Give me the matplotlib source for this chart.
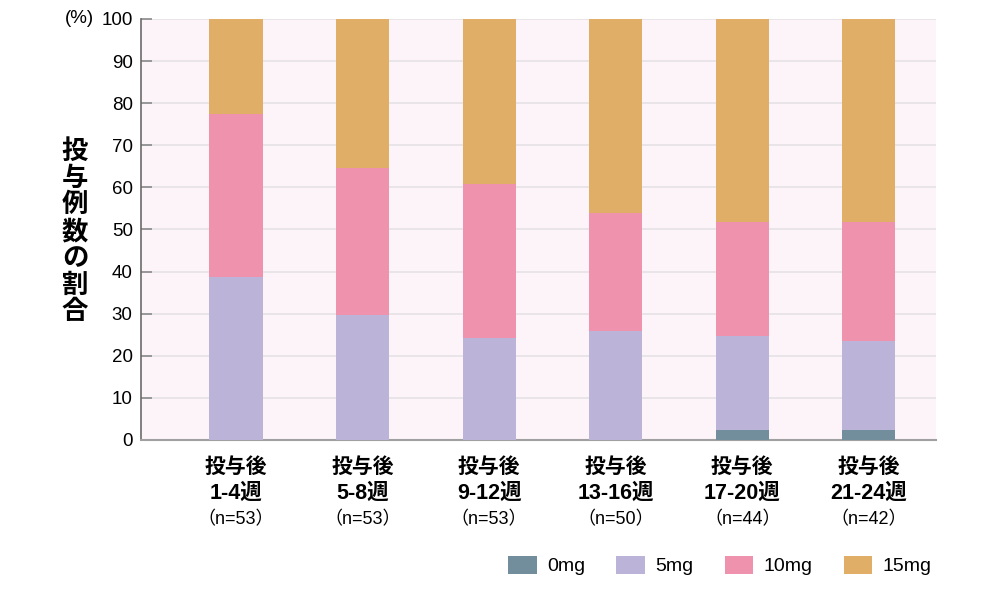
import numpy as np
import matplotlib.pyplot as plt
from matplotlib.patches import Patch
import matplotlib.transforms as mtransforms

plt.rcParams['font.family'] = ['Liberation Sans', 'Noto Sans CJK JP', 'DejaVu Sans']

periods = ['1-4週', '5-8週', '9-12週', '13-16週', '17-20週', '21-24週']
n_counts = [53, 53, 53, 50, 44, 42]
doses = ['0mg', '5mg', '10mg', '15mg']

# percentage of patients per dose
pct_0mg = [0.0, 0.0, 0.0, 0.0, 2.4, 2.4]
pct_5mg = [38.7, 29.7, 24.2, 26.0, 22.3, 21.0]
pct_10mg = [38.8, 35.0, 36.5, 27.8, 27.0, 28.3]
pct_15mg = [22.5, 35.3, 39.3, 46.2, 48.3, 48.3]

colors = ['#728e9c', '#bbb3d8', '#ef92ae', '#e1ae68']

fig = plt.figure(figsize=(10.01, 5.91), dpi=100)
ax = fig.add_axes([0.1409, 0.2555, 0.794, 0.7124])
ax.set_facecolor('#fdf4f9')

x = np.arange(len(periods))
bottom = np.zeros(len(periods))
for vals, c in zip([pct_0mg, pct_5mg, pct_10mg, pct_15mg], colors):
    ax.bar(x, vals, width=0.42, bottom=bottom, color=c, zorder=3)
    bottom += np.array(vals)

ax.set_ylim(0, 100)
ax.set_xlim(-0.75, 5.53)
ax.set_yticks(range(0, 101, 10))
ax.yaxis.grid(True, color='#e6e1e5', linewidth=1.2, zorder=0)
ax.tick_params(axis='y', direction='in', length=8, width=1.2, color='#8a8a8a',
               labelsize=13.5, pad=6)
ax.set_xticks([])
for s in ['top', 'right']:
    ax.spines[s].set_visible(False)
ax.spines['left'].set_color('#6b6b6b')
ax.spines['left'].set_linewidth(1.2)
ax.spines['bottom'].set_color('#a0a0a0')
ax.spines['bottom'].set_linewidth(1.5)

trans = mtransforms.blended_transform_factory(ax.transData, ax.transAxes)
for i, (p, n) in enumerate(zip(periods, n_counts)):
    ax.text(i, -0.064, '投与後', transform=trans, ha='center', va='center',
            fontsize=15, fontweight='bold')
    ax.text(i, -0.127, p, transform=trans, ha='center', va='center',
            fontsize=15.5, fontweight='bold')
    ax.text(i, -0.19, '（n=%d）' % n, transform=trans, ha='center', va='center',
            fontsize=13)

fig.text(0.075, 0.608, '\n'.join('投与例数の割合'), ha='center', va='center',
         fontsize=19, fontweight='bold', linespacing=1.12)
fig.text(0.079, 0.968, '(%)', ha='center', va='center', fontsize=13.5)

handles = [Patch(facecolor=c, label=d) for c, d in zip(colors, doses)]
fig.legend(handles=handles, loc='center right', bbox_to_anchor=(0.948, 0.043),
           ncol=4, frameon=False, fontsize=14, handlelength=1.45, handleheight=1.05,
           columnspacing=1.6, handletextpad=0.55)

fig.savefig('out.png', dpi=100)
